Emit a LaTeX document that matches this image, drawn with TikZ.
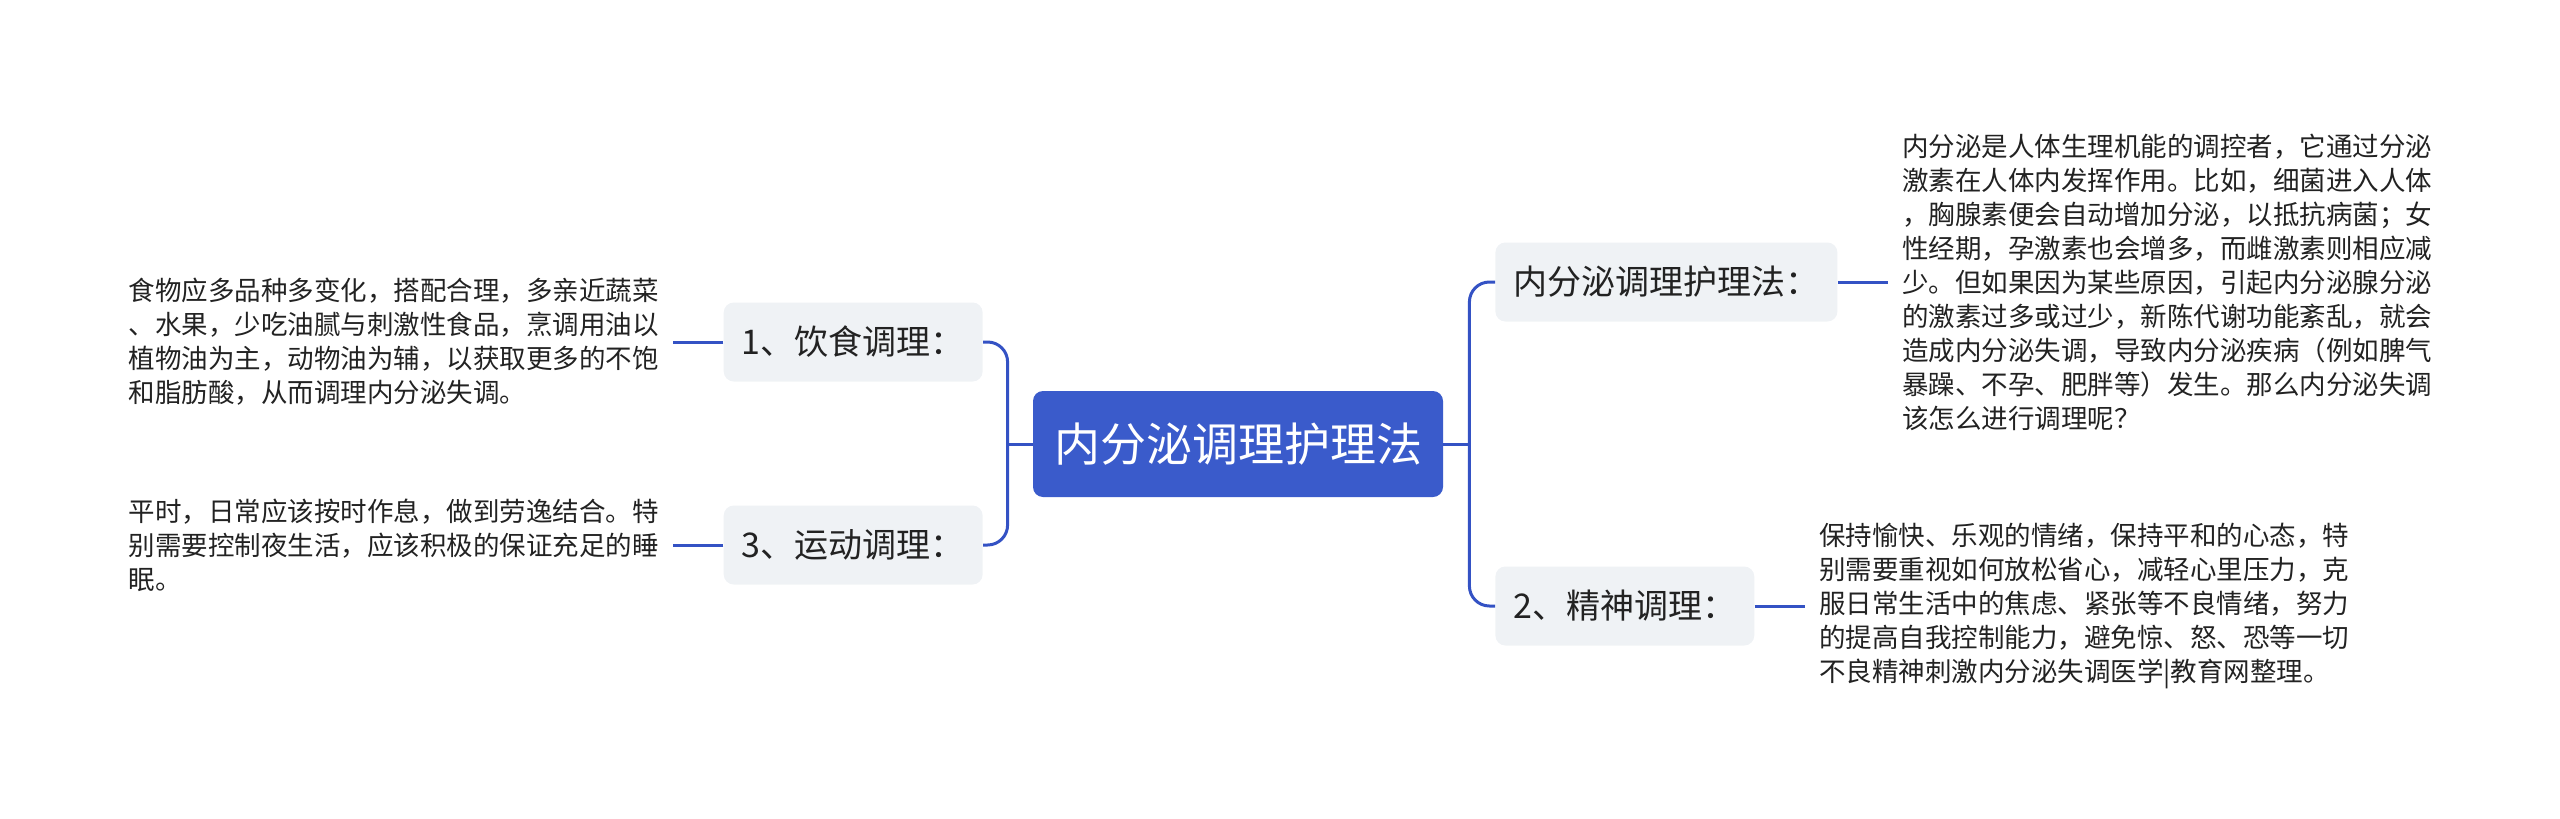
\documentclass[tikz,border=0pt]{standalone}
\usepackage{fontspec}
\newfontfamily\cjk{Noto Sans CJK SC}
\usepackage{tikz}
\usetikzlibrary{positioning,calc}
\definecolor{mainblue}{HTML}{3A5BCB}
\definecolor{linkblue}{HTML}{3452C4}
\definecolor{boxgray}{HTML}{EFF2F5}
\definecolor{inkgray}{HTML}{222222}

\begin{document}
\begin{tikzpicture}[x=0.5pt,y=-0.5pt,
  root/.style={fill=mainblue,rounded corners=5pt,text=white,minimum width=205pt,minimum height=53pt,inner xsep=10.5pt,font=\cjk\fontsize{23}{27}\selectfont},
  branch/.style={fill=boxgray,rounded corners=5pt,text=inkgray,minimum height=39.5pt,inner xsep=9pt,font=\cjk\fontsize{17}{20}\selectfont},
  note/.style={align=left,text=inkgray,inner xsep=7pt,inner ysep=0pt,font=\cjk\fontsize{13.25}{17}\selectfont},
  link/.style={draw=linkblue,line width=1.5pt,rounded corners=10pt}]
\useasboundingbox (0,0) rectangle (2560,819);
\node[root] (root) at (1238,444) {内分泌调理护理法};
% left side
\node[branch,anchor=east] (diet) at (983,342) {1、饮食调理：};
\node[branch,anchor=east] (sport) at (983,545) {3、运动调理：};
\node[note,left=25pt of diet] (dietnote) {食物应多品种多变化，搭配合理，多亲近蔬菜\\、水果，少吃油腻与刺激性食品，烹调用油以\\植物油为主，动物油为辅，以获取更多的不饱\\和脂肪酸，从而调理内分泌失调。};
\node[note,left=25pt of sport] (sportnote) {平时，日常应该按时作息，做到劳逸结合。特\\别需要控制夜生活，应该积极的保证充足的睡\\眠。};
% right side
\node[branch,anchor=west] (intro) at (1495,282) {内分泌调理护理法：};
\node[branch,anchor=west] (mind) at (1495,606) {2、精神调理：};
\node[note,right=25pt of intro] (intronote) {内分泌是人体生理机能的调控者，它通过分泌\\激素在人体内发挥作用。比如，细菌进入人体\\，胸腺素便会自动增加分泌，以抵抗病菌；女\\性经期，孕激素也会增多，而雌激素则相应减\\少。但如果因为某些原因，引起内分泌腺分泌\\的激素过多或过少，新陈代谢功能紊乱，就会\\造成内分泌失调，导致内分泌疾病（例如脾气\\暴躁、不孕、肥胖等）发生。那么内分泌失调\\该怎么进行调理呢？};
\node[note,right=25pt of mind] (mindnote) {保持愉快、乐观的情绪，保持平和的心态，特\\别需要重视如何放松省心，减轻心里压力，克\\服日常生活中的焦虑、紧张等不良情绪，努力\\的提高自我控制能力，避免惊、怒、恐等一切\\不良精神刺激内分泌失调医学|教育网整理。};
% connectors
\coordinate (lj) at ($(root.west)+(-25,0)$);
\coordinate (rj) at ($(root.east)+(26,0)$);
\draw[link] (root.west) -- (lj);
\draw[link] (diet.east) -| (lj) |- (sport.east);
\draw[link] (root.east) -- (rj);
\draw[link] (intro.west) -| (rj) |- (mind.west);
\draw[link] (diet.west) -- (diet.west -| dietnote.east);
\draw[link] (sport.west) -- (sport.west -| sportnote.east);
\draw[link] (intro.east) -- (intro.east -| intronote.west);
\draw[link] (mind.east) -- (mind.east -| mindnote.west);
\end{tikzpicture}
\end{document}
